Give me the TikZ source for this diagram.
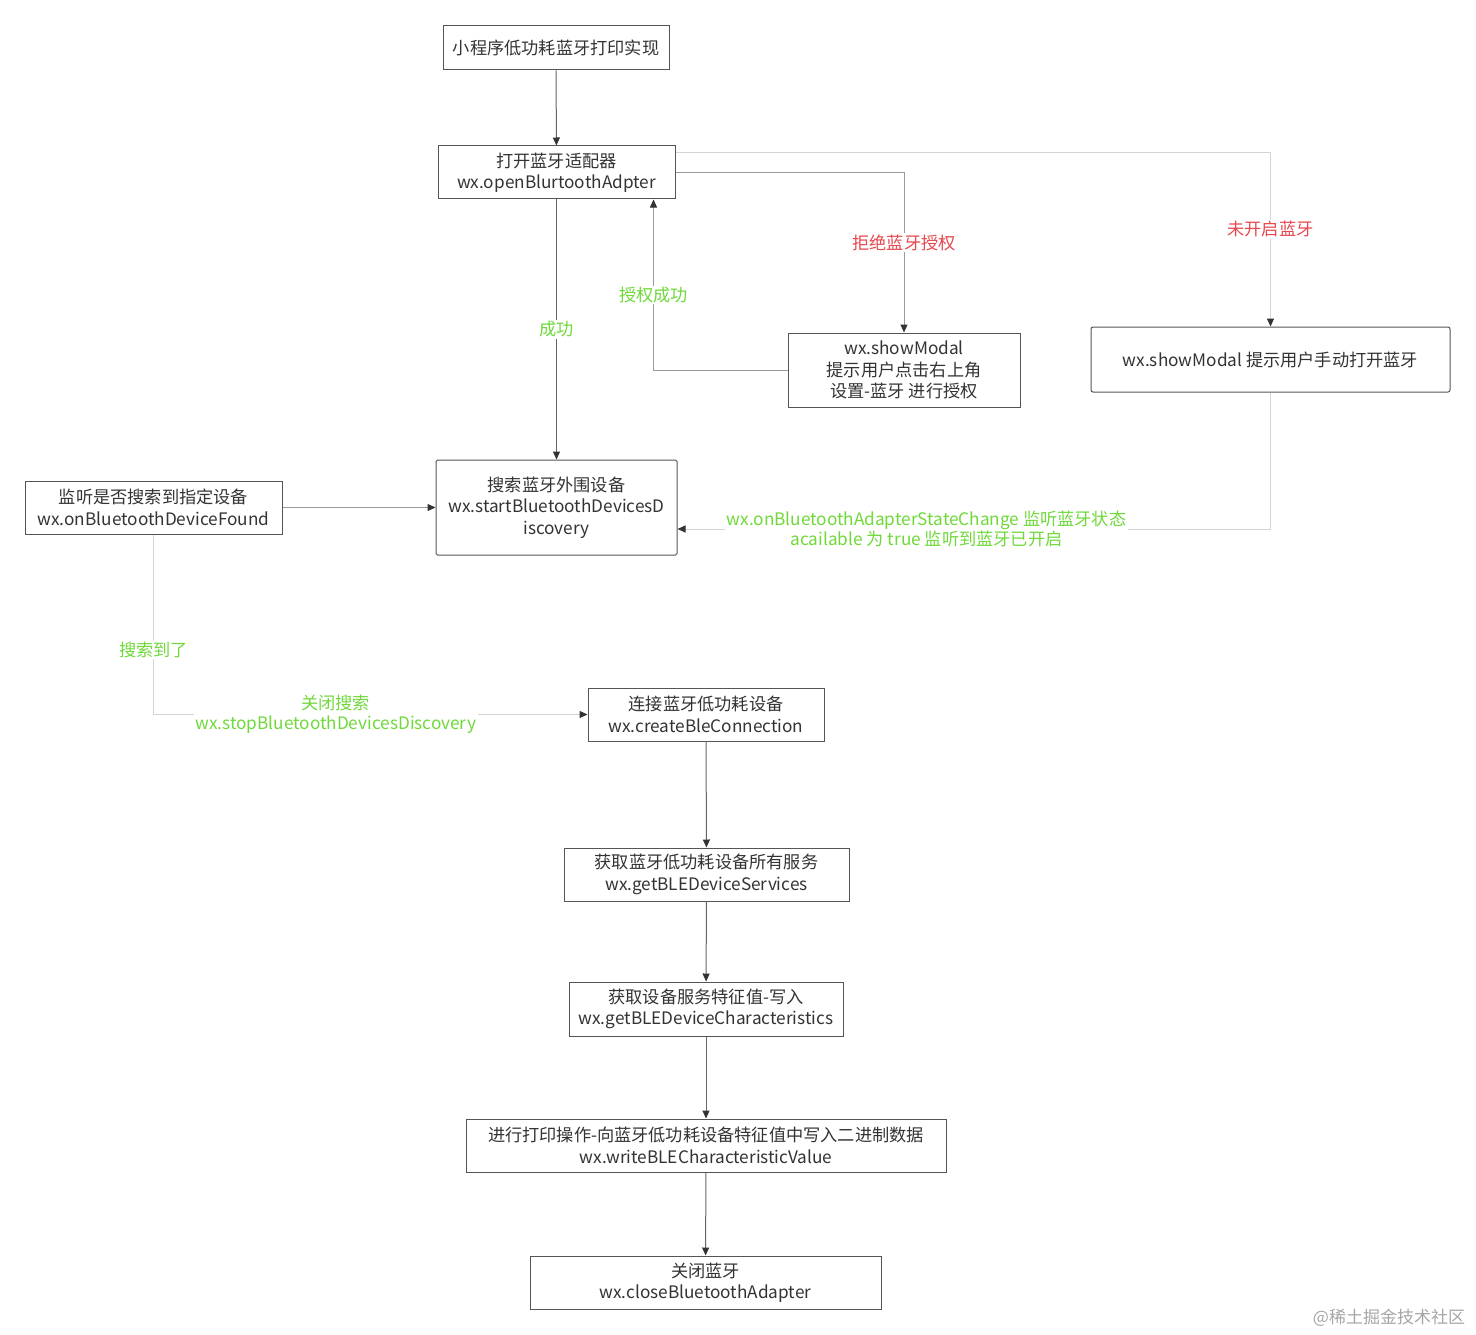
\documentclass[tikz,border=0pt]{standalone}
\usepackage{fontspec}
\setmainfont{Noto Sans CJK SC}
\usetikzlibrary{arrows.meta}
\definecolor{boxc}{HTML}{555555}
\definecolor{textc}{HTML}{333333}
\definecolor{darkl}{HTML}{666666}
\definecolor{midl}{HTML}{9A9A9A}
\definecolor{lightl}{HTML}{D4D4D4}
\definecolor{lblgreen}{HTML}{6FD93A}
\definecolor{lblred}{HTML}{E5484F}
\tikzset{
  box/.style={draw=boxc, line width=1pt, fill=white, align=center, inner sep=0pt,
    text=textc, font=\fontsize{17.2}{21.5}\selectfont},
  link/.style={line width=1pt, -{Triangle[length=8pt,width=7pt,color=textc]}},
  glbl/.style={fill=white, inner sep=1.5pt, text=lblgreen, align=center, font=\fontsize{17.2}{20.5}\selectfont},
  rlbl/.style={fill=white, inner sep=1.5pt, text=lblred, align=center, font=\fontsize{17.2}{20.5}\selectfont},
}
\begin{document}
\begin{tikzpicture}[x=1pt,y=-1pt]
\useasboundingbox[fill=white] (0,0) rectangle (1476,1335);

\node[box, minimum width=226, minimum height=44] (title) at (556,48) {小程序低功耗蓝牙打印实现};
\node[box, minimum width=237, minimum height=53] (adapter) at (556.5,172.5) {打开蓝牙适配器\\wx.openBlurtoothAdpter};
\node[box, minimum width=232, minimum height=74] (modal1) at (904,370) {wx.showModal\\提示用户点击右上角\\设置-蓝牙 进行授权};
\node[box, rounded corners=2pt, minimum width=359, minimum height=65] (modal2) at (1270.5,359.5) {wx.showModal 提示用户手动打开蓝牙};
\node[box, rounded corners=1.5pt, minimum width=241, minimum height=95] (search) at (556.5,507.5) {搜索蓝牙外围设备\\wx.startBluetoothDevicesD\\iscovery};
\node[box, minimum width=257, minimum height=53] (listen) at (153.5,507.5) {监听是否搜索到指定设备\\wx.onBluetoothDeviceFound};
\node[box, minimum width=236, minimum height=53] (connect) at (706,714.5) {连接蓝牙低功耗设备\\wx.createBleConnection};
\node[box, minimum width=285, minimum height=53] (services) at (706.5,874.5) {获取蓝牙低功耗设备所有服务\\wx.getBLEDeviceServices};
\node[box, minimum width=274, minimum height=54] (chars) at (706,1009) {获取设备服务特征值-写入\\wx.getBLEDeviceCharacteristics};
\node[box, minimum width=480, minimum height=53] (write) at (706,1145.5) {进行打印操作-向蓝牙低功耗设备特征值中写入二进制数据\\wx.writeBLECharacteristicValue};
\node[box, minimum width=351, minimum height=53] (close) at (705.5,1282.5) {关闭蓝牙\\wx.closeBluetoothAdapter};

\draw[link, draw=darkl] (title) -- (adapter);
\draw[link, draw=darkl] (adapter) -- node[glbl] {成功} (search);
\draw[link, draw=midl] (modal1.west) -| node[glbl, pos=0.72] {授权成功} ([xshift=-22pt]adapter.south east);
\draw[link, draw=midl] (adapter.east) -| node[rlbl, pos=0.72] {拒绝蓝牙授权} (modal1.north);
\draw[link, draw=lightl] ([yshift=-7pt]adapter.north east) -| node[rlbl, pos=0.72] {未开启蓝牙} (modal2.north);
\draw[link, draw=lightl] (modal2.south) |- node[glbl, pos=0.79] {wx.onBluetoothAdapterStateChange 监听蓝牙状态\\acailable 为 true 监听到蓝牙已开启} ([yshift=-21.5pt]search.east);
\draw[link, draw=midl] (listen.east) -- (search.west);
\draw[link, draw=lightl] (listen.south) |- node[glbl, pos=0.32] {搜索到了} node[glbl, pos=0.71] {关闭搜索\\wx.stopBluetoothDevicesDiscovery} (connect.west);
\draw[link, draw=darkl] (connect) -- (services);
\draw[link, draw=darkl] (services) -- (chars);
\draw[link, draw=darkl] (chars) -- (write);
\draw[link, draw=darkl] (write) -- (close);

\node[text=black!35, font=\fontsize{17}{18}\selectfont] (wm) at (1389,1318) {@稀土掘金技术社区};
\end{tikzpicture}
\end{document}
